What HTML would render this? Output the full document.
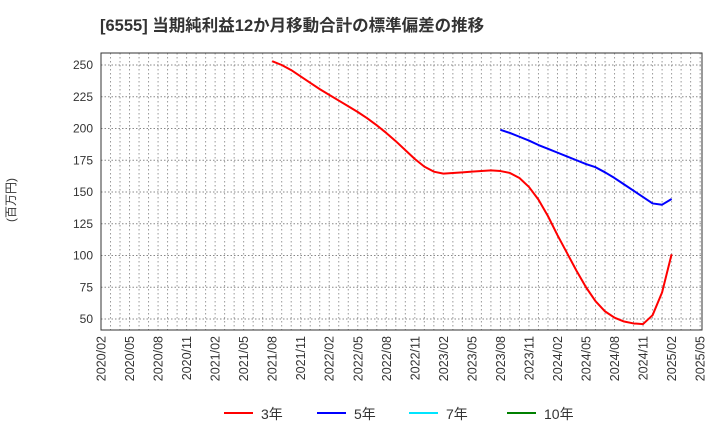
<!DOCTYPE html>
<html><head><meta charset="utf-8"><style>
body{margin:0;background:#fff;font-family:"Liberation Sans","Noto Sans CJK JP",sans-serif;}
</style></head><body>
<svg id="c" width="720" height="440" xmlns="http://www.w3.org/2000/svg" font-family="Liberation Sans, Noto Sans CJK JP, sans-serif">
<text x="100" y="31" font-size="16.5" font-weight="bold" fill="#333">[6555]  当期純利益12か月移動合計の標準偏差の推移</text>
<text transform="translate(15,200) rotate(-90)" text-anchor="middle" font-size="12" fill="#333">(百万円)</text>
<g id="grid"></g><g id="axes"></g><g id="series"></g>
<g>
<line x1="224" y1="413" x2="253" y2="413" stroke="#ff0000" stroke-width="2"/><text x="261" y="419" font-size="14" fill="#333">3年</text>
<line x1="317" y1="413" x2="346" y2="413" stroke="#0000ff" stroke-width="2"/><text x="354" y="419" font-size="14" fill="#333">5年</text>
<line x1="409" y1="413" x2="438" y2="413" stroke="#00e5ff" stroke-width="2"/><text x="446" y="419" font-size="14" fill="#333">7年</text>
<line x1="507" y1="413" x2="536" y2="413" stroke="#008000" stroke-width="2"/><text x="544" y="419" font-size="14" fill="#333">10年</text>
</g>
</svg>
<script>
const yTicks=[50,75,100,125,150,175,200,225,250];
const xTickLabels=["2020/02","2020/05","2020/08","2020/11","2021/02","2021/05","2021/08","2021/11","2022/02","2022/05","2022/08","2022/11","2023/02","2023/05","2023/08","2023/11","2024/02","2024/05","2024/08","2024/11","2025/02","2025/05"];
const red3Start=18;
const red3=[253,250,246,241,236,231,226.5,222,217.5,213,208,202.5,196.5,190,183,176,170,166,164.5,165,165.5,166,166.5,167,166.5,165,161,154,144,131,116,102,88,75,64,56,51,48,46.5,46,53,71,101];
const blue5Start=42;
const blue5=[199,196.5,193.5,190.5,187,184,181,178,175,172,169.5,165.5,161,156,151,146,141,140,144.5];
const L=101,R=702,T=53,B=330;
const X=m=>L+m*9.51;
const Y=v=>319-(v-50)*1.27;
const ns="http://www.w3.org/2000/svg";
function mk(p,t,a){const e=document.createElementNS(ns,t);for(const k in a)e.setAttribute(k,a[k]);p.appendChild(e);return e;}
const g=document.getElementById('grid'),ax=document.getElementById('axes'),s=document.getElementById('series');
for(let m=1;m<64;m++){const l=mk(g,'line',{x1:X(m),x2:X(m),y1:T,y2:B,stroke:'#999','stroke-dasharray':'1.5,2.5','stroke-width':1});

}
yTicks.forEach(v=>{const l=mk(g,'line',{x1:L,x2:R,y1:Y(v),y2:Y(v),stroke:'#888','stroke-dasharray':'1.5,2','stroke-width':1});


const t=mk(ax,'text',{x:L-8,y:Y(v)+4,'text-anchor':'end','font-size':12,fill:'#333'});t.textContent=v;

});
xTickLabels.forEach((lb,i)=>{const x=X(i*3);const t=mk(ax,'text',{transform:`translate(${x+4.5},336) rotate(-90)`,'text-anchor':'end','font-size':12.5,fill:'#333'});t.textContent=lb;

});
const fr=mk(ax,'rect',{x:L,y:T,width:R-L,height:B-T,fill:'none',stroke:'#333','stroke-width':1});


function line(arr,st,col,name){const p=mk(s,'polyline',{points:arr.map((v,i)=>X(st+i)+','+Y(v)).join(' '),fill:'none',stroke:col,'stroke-width':2,'stroke-linejoin':'round'});

}
line(red3,red3Start,'#ff0000','series-3y');
line(blue5,blue5Start,'#0000ff','series-5y');
</script>
</body></html>
